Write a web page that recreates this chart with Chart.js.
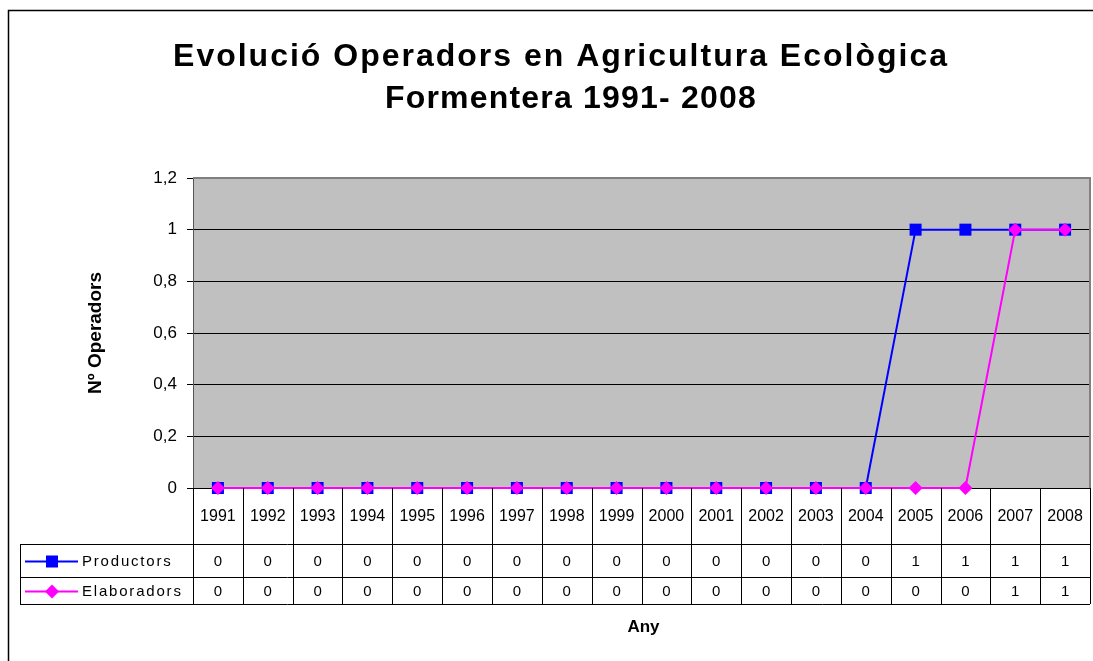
<!DOCTYPE html>
<html>
<head>
<meta charset="utf-8">
<script src="https://cdn.jsdelivr.net/npm/chart.js@4/dist/chart.umd.min.js"></script>
<style>
  body { margin: 0; background: #fff; }
  #wrap { position: relative; width: 1093px; height: 661px; }
</style>
</head>
<body>
<div id="wrap"><canvas id="chart"></canvas></div>
<script>
// data
const years = ["1991", "1992", "1993", "1994", "1995", "1996", "1997", "1998", "1999",
  "2000", "2001", "2002", "2003", "2004", "2005", "2006", "2007", "2008"];
const productors = [0, 0, 0, 0, 0, 0, 0, 0, 0, 0, 0, 0, 0, 0, 1, 1, 1, 1];
const elaboradors = [0, 0, 0, 0, 0, 0, 0, 0, 0, 0, 0, 0, 0, 0, 0, 0, 1, 1];
const seriesNames = ["Productors", "Elaboradors"];
const titleLines = ["Evolució Operadors en Agricultura Ecològica", "Formentera 1991- 2008"];
const yTitle = "Nº Operadors";
const xTitle = "Any";

const BLUE = "#0000FF";
const MAGENTA = "#FF00FF";

function fmt(v) {
  return (Math.round(v * 10) / 10).toString().replace(".", ",");
}

// draws a marker like chart.js does, for the table legend
function marker(ctx, style, x, y, r, color) {
  ctx.save();
  ctx.fillStyle = color;
  ctx.beginPath();
  if (style === "rect") {
    const s = r * Math.SQRT1_2;
    ctx.rect(x - s, y - s, 2 * s, 2 * s);
  } else {
    ctx.moveTo(x, y - r);
    ctx.lineTo(x + r, y);
    ctx.lineTo(x, y + r);
    ctx.lineTo(x - r, y);
    ctx.closePath();
  }
  ctx.fill();
  ctx.restore();
}

const excelLook = {
  id: "excelLook",
  beforeDraw(chart) {
    const { ctx, chartArea: a } = chart;
    ctx.save();
    ctx.fillStyle = "#C0C0C0";
    ctx.fillRect(a.left, a.top, a.right - a.left, a.bottom - a.top);
    ctx.restore();
  },
  afterDraw(chart) {
    const { ctx, chartArea: a } = chart;
    const x = chart.scales.x;
    const step = x.getPixelForValue(1) - x.getPixelForValue(0);
    const rowTop = a.bottom + 56;
    const rowMid = a.bottom + 89;
    const rowEnd = a.bottom + 116;
    const labelLeft = 20;

    ctx.save();
    // plot border top / right
    ctx.strokeStyle = "#808080";
    ctx.lineWidth = 2;
    ctx.beginPath();
    ctx.moveTo(a.left, a.top);
    ctx.lineTo(a.right, a.top);
    ctx.lineTo(a.right, a.bottom);
    ctx.stroke();

    // data table grid
    ctx.strokeStyle = "#000";
    ctx.lineWidth = 1;
    ctx.beginPath();
    for (let i = 0; i <= years.length; i++) {
      const xb = Math.round(x.getPixelForValue(i) - step / 2) + 0.5;
      ctx.moveTo(xb, a.bottom);
      ctx.lineTo(xb, rowEnd);
    }
    [rowTop, rowMid, rowEnd].forEach(function (yy) {
      ctx.moveTo(labelLeft, yy + 0.5);
      ctx.lineTo(a.right, yy + 0.5);
    });
    ctx.moveTo(labelLeft + 0.5, rowTop);
    ctx.lineTo(labelLeft + 0.5, rowEnd);
    ctx.stroke();

    // years + values
    ctx.fillStyle = "#000";
    ctx.textAlign = "center";
    ctx.textBaseline = "middle";
    ctx.font = "16px Arial, 'Liberation Sans', sans-serif";
    years.forEach(function (yr, i) {
      ctx.fillText(yr, x.getPixelForValue(i), a.bottom + 29);
    });
    ctx.font = "15px Arial, 'Liberation Sans', sans-serif";
    years.forEach(function (yr, i) {
      ctx.fillText(String(productors[i]), x.getPixelForValue(i), (rowTop + rowMid) / 2 + 1);
      ctx.fillText(String(elaboradors[i]), x.getPixelForValue(i), (rowMid + rowEnd) / 2 + 1);
    });

    // legend keys in the table
    const keys = [
      { name: seriesNames[0], color: BLUE, style: "rect", r: 8.5, y: (rowTop + rowMid) / 2 + 1 },
      { name: seriesNames[1], color: MAGENTA, style: "rectRot", r: 7, y: (rowMid + rowEnd) / 2 + 1 },
    ];
    keys.forEach(function (k) {
      ctx.strokeStyle = k.color;
      ctx.lineWidth = 2;
      ctx.beginPath();
      ctx.moveTo(25, k.y);
      ctx.lineTo(78, k.y);
      ctx.stroke();
      marker(ctx, k.style, 52, k.y, k.r, k.color);
      ctx.fillStyle = "#000";
      ctx.textAlign = "left";
      ctx.letterSpacing = "1.8px";
      ctx.fillText(k.name, 82, k.y);
      ctx.letterSpacing = "0px";
    });

    // axis title under table
    ctx.textAlign = "center";
    ctx.font = "bold 17px Arial, 'Liberation Sans', sans-serif";
    ctx.fillText(xTitle, (a.left + a.right) / 2 + 2, 627);

    // chart title
    ctx.font = "bold 32px Arial, 'Liberation Sans', sans-serif";
    ctx.letterSpacing = "2px";
    ctx.fillText(titleLines[0], 561, 57);
    ctx.letterSpacing = "1.2px";
    ctx.fillText(titleLines[1], 571, 99);
    ctx.letterSpacing = "0px";

    // outer chart frame
    ctx.strokeStyle = "#000";
    ctx.lineWidth = 1.5;
    ctx.beginPath();
    ctx.moveTo(8.5, chart.height);
    ctx.lineTo(8.5, 10.5);
    ctx.lineTo(chart.width, 10.5);
    ctx.stroke();
    ctx.restore();
  },
};

new Chart(document.getElementById("chart"), {
  type: "line",
  data: {
    labels: years,
    datasets: [
      {
        label: seriesNames[0],
        data: productors,
        borderColor: BLUE,
        backgroundColor: BLUE,
        borderWidth: 2,
        pointStyle: "rect",
        pointRadius: 8.5,
        pointHoverRadius: 8.5,
        pointBorderWidth: 0,
        tension: 0,
        clip: false,
        order: 2,
      },
      {
        label: seriesNames[1],
        data: elaboradors,
        borderColor: MAGENTA,
        backgroundColor: MAGENTA,
        borderWidth: 2,
        pointStyle: "rectRot",
        pointRadius: 7,
        pointHoverRadius: 7,
        pointBorderWidth: 0,
        tension: 0,
        clip: false,
        order: 1,
      },
    ],
  },
  options: {
    responsive: true,
    maintainAspectRatio: false,
    animation: false,
    layout: {
      autoPadding: false,
      padding: { top: 178, right: 3, bottom: 173, left: 0 },
    },
    plugins: {
      legend: { display: false },
      title: { display: false },
      tooltip: { enabled: false },
    },
    scales: {
      x: {
        display: false,
        offset: true,
      },
      y: {
        min: 0,
        max: 1.2,
        afterFit: function (scale) {
          scale.width = 193;
        },
        ticks: {
          stepSize: 0.2,
          color: "#000",
          padding: 10,
          font: { family: "Arial, 'Liberation Sans', sans-serif", size: 17 },
          callback: function (v) {
            return fmt(v);
          },
        },
        grid: {
          color: "#000",
          lineWidth: 1,
          tickLength: 6,
        },
        border: { color: "#555", width: 1 },
        title: {
          display: true,
          text: yTitle,
          color: "#000",
          font: { family: "Arial, 'Liberation Sans', sans-serif", size: 19, weight: "bold" },
          padding: { top: 84, bottom: 0 },
        },
      },
    },
  },
  plugins: [excelLook],
});
</script>
</body>
</html>
